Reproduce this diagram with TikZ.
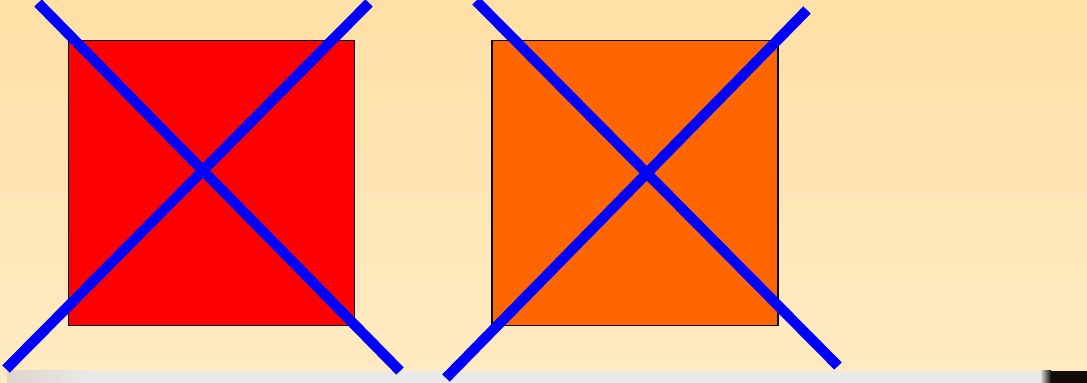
\documentclass[tikz,border=0pt]{standalone}
\usepackage{xcolor}
\usepackage{tikz}
\usetikzlibrary{positioning}
\definecolor{bgtop}{HTML}{FFE0A6}
\definecolor{bgbottom}{HTML}{FFEBC2}
\definecolor{stripgray}{HTML}{E9E9E9}
\definecolor{striptan}{HTML}{DDD5CC}
\definecolor{stripdark}{HTML}{110C08}
\definecolor{boxred}{HTML}{FF0000}
\definecolor{boxorange}{HTML}{FF6600}
\definecolor{crossblue}{HTML}{0000FF}

\begin{document}
\begin{tikzpicture}[
  square/.style={rectangle,draw=black,line width=1.1pt,minimum width=5.72cm,minimum height=5.70cm,inner sep=0pt},
  cross/.style={draw=crossblue,line width=5.9pt,line cap=butt}
]
\useasboundingbox (0,0) rectangle (21.74,7.66);
\shade[top color=bgtop,bottom color=bgbottom] (0,0) rectangle (21.74,7.66);
\fill[stripgray] (0.14,0) rectangle (21.74,0.24);
\shade[left color=striptan,right color=stripgray] (0.14,0) rectangle (1.8,0.24);
\shade[left color=stripgray,right color=stripdark] (20.8,0) rectangle (21.02,0.24);
\fill[stripdark] (21.02,0) rectangle (21.74,0.24);
\node[square,fill=boxred] (redbox) at (4.23,4.0) {};
\node[square,fill=boxorange,right=2.72cm of redbox] (orangebox) {};
\coordinate (redtl) at (0.76,7.60);
\coordinate (redbr) at (8.00,0.24);
\coordinate (redtr) at (7.38,7.60);
\coordinate (redbl) at (0.12,0.28);
\coordinate (orangetl) at (9.52,7.64);
\coordinate (orangebr) at (16.76,0.34);
\coordinate (orangetr) at (16.14,7.46);
\coordinate (orangebl) at (8.92,0.10);
\foreach \a/\b in {redtl/redbr,redtr/redbl,orangetl/orangebr,orangetr/orangebl}
  \draw[cross] (\a)--(\b);
\end{tikzpicture}
\end{document}
